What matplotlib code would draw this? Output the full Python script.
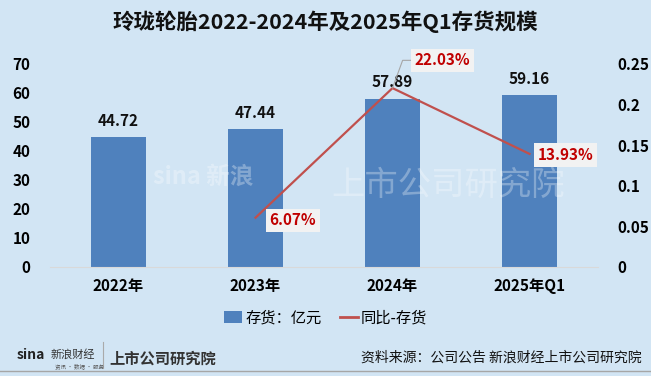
import matplotlib
matplotlib.use("Agg")
import matplotlib.pyplot as plt
from matplotlib.lines import Line2D
from matplotlib.patches import Patch

plt.rcParams['font.family'] = ['Noto Sans CJK SC', 'DejaVu Sans']

categories = ['2022年', '2023年', '2024年', '2025年Q1']
inventory = [44.72, 47.44, 57.89, 59.16]
yoy_cats = ['2023年', '2024年', '2025年Q1']
yoy = [0.0607, 0.2203, 0.1393]
yoy_labels = ['6.07%', '22.03%', '13.93%']
left_ticks = [0, 10, 20, 30, 40, 50, 60, 70]
right_ticks = [0, 0.05, 0.1, 0.15, 0.2, 0.25]
right_tick_labels = ['0', '0.05', '0.1', '0.15', '0.2', '0.25']

BG = '#D2E5F4'
BAR = '#4F81BD'
LINE = '#C0504D'
RED = '#C00000'

fig = plt.figure(figsize=(6.51, 3.76), dpi=100, facecolor=BG)
ax = fig.add_axes([0.0768, 0.2899, 0.8418, 0.5399])
ax.set_facecolor(BG)
x = list(range(len(categories)))
ax.bar(x, inventory, width=0.40, color=BAR, zorder=2)
ax.set_xlim(-0.5, len(categories) - 0.5)
ax.set_ylim(0, 70)
ax.set_yticks(left_ticks)
ax.set_yticklabels([str(t) for t in left_ticks], fontsize=11, fontweight='bold')
ax.set_xticks(x)
ax.set_xticklabels(categories, fontsize=11, fontweight='bold')
ax.tick_params(length=0, pad=14)
ax.tick_params(axis='x', pad=8)
for s in ['top', 'right', 'left']:
    ax.spines[s].set_visible(False)
ax.spines['bottom'].set_color('#D9D9D9')
for xi, v in zip(x, inventory):
    ax.text(xi, v + 3, f'{v:.2f}', ha='center', va='bottom', fontsize=11, fontweight='bold', color='#111111')

# watermark
ax.text(0.25, 31, 'sina 新浪', fontsize=17, color='white', alpha=0.3, ha='left', va='center',
        fontweight='bold', zorder=3)
ax.text(1.55, 28, '上市公司研究院', fontsize=24, color='white', alpha=0.3, ha='left', va='center',
        zorder=3)

ax2 = ax.twinx()
ax2.set_ylim(0, 0.25)
ax2.set_yticks(right_ticks)
ax2.set_yticklabels(right_tick_labels, fontsize=11, fontweight='bold')
ax2.tick_params(length=0, pad=14)
for s in ['top', 'right', 'left', 'bottom']:
    ax2.spines[s].set_visible(False)
xl = [categories.index(c) for c in yoy_cats]
ax2.plot(xl, yoy, color=LINE, lw=1.6, zorder=3)
box = dict(boxstyle='square,pad=0.25', fc='#F2F2F2', ec='none')
ax2.annotate(yoy_labels[0], (xl[0], yoy[0]), xytext=(10, -2), textcoords='offset points',
             ha='left', va='center', fontsize=11, fontweight='bold', color=RED, bbox=box)
ax2.annotate(yoy_labels[1], (xl[1], yoy[1]), xytext=(16, 20), textcoords='offset points',
             ha='left', va='center', fontsize=11, fontweight='bold', color=RED, bbox=box,
             arrowprops=dict(arrowstyle='-', color='#A6A6A6', lw=0.8, shrinkA=0, shrinkB=0,
                             connectionstyle='angle,angleA=0,angleB=70,rad=0'))
ax2.annotate(yoy_labels[2], (xl[2], yoy[2]), xytext=(6, -1), textcoords='offset points',
             ha='left', va='center', fontsize=11, fontweight='bold', color=RED, bbox=box)

fig.text(0.5, 0.942, '玲珑轮胎2022-2024年及2025年Q1存货规模', ha='center', va='center',
         fontsize=15.5, fontweight='bold', color='#111111')

handles = [Patch(facecolor=BAR, edgecolor='none'), Line2D([0], [0], color=LINE, lw=2)]
fig.legend(handles, ['存货：亿元', '同比-存货'], loc='center', bbox_to_anchor=(0.5, 0.155),
           ncol=2, frameon=False, fontsize=11, handlelength=1.2, handleheight=0.8,
           columnspacing=1.2, handletextpad=0.2)

# footer logos
fig.text(0.025, 0.055, 'sina', fontsize=10, fontweight='bold', style='italic', color='#222222', va='center')
fig.text(0.078, 0.058, '新浪财经', fontsize=8, color='#333333', va='center')
fig.text(0.085, 0.025, '资讯 · 数据 · 服务', fontsize=4, color='#555555', va='center')
fig.add_artist(Line2D([0.158, 0.158], [0.02, 0.09], transform=fig.transFigure, color='#AAAAAA', lw=0.8))
fig.text(0.168, 0.045, '上市公司研究院', fontsize=11, fontweight='bold', color='#333333', va='center')
fig.text(0.985, 0.048, '资料来源：公司公告 新浪财经上市公司研究院', ha='right', va='center', fontsize=10, color='#111111')
fig.add_artist(Line2D([0, 1], [0.013, 0.013], transform=fig.transFigure, color='#A6A6A6', lw=1))

fig.savefig('out.png', dpi=100, facecolor=BG)
